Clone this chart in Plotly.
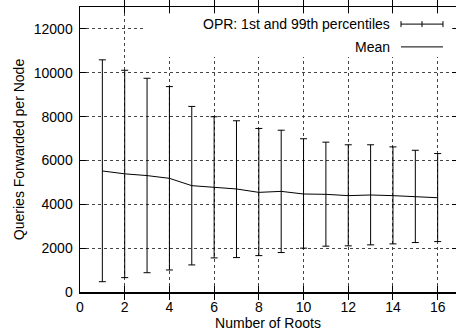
import plotly.graph_objects as go

roots = list(range(1, 17))
mean = [5520, 5390, 5310, 5185, 4850, 4760, 4700, 4545, 4590, 4470, 4455, 4395, 4425, 4395, 4350, 4300]
p1 = [470, 655, 880, 1005, 1235, 1555, 1570, 1660, 1800, 2000, 2090, 2105, 2150, 2195, 2255, 2300]
p99 = [10590, 10115, 9750, 9370, 8465, 7995, 7810, 7460, 7380, 6990, 6835, 6715, 6715, 6620, 6465, 6315]
x_ticks = list(range(0, 17, 2))
y_ticks = list(range(0, 12001, 2000))

FONT = "Liberation Sans, Arial, Helvetica, sans-serif"
X_MAX, Y_MAX = 16.82, 13000

err_plus = [h - m for h, m in zip(p99, mean)]
err_minus = [m - l for m, l in zip(mean, p1)]

fig = go.Figure()
fig.add_trace(go.Scatter(
    x=roots, y=mean, mode="markers",
    marker=dict(size=0.1, color="black"),
    error_y=dict(type="data", symmetric=False, array=err_plus, arrayminus=err_minus,
                 color="black", thickness=1, width=3.5),
    showlegend=False, hoverinfo="skip"))
fig.add_trace(go.Scatter(
    x=roots, y=mean, mode="lines", line=dict(color="black", width=1),
    showlegend=False, hoverinfo="skip"))

# invisible trace to drive the right-side tick axis
fig.add_trace(go.Scatter(x=[None], y=[None], yaxis="y2", showlegend=False))

# gnuplot-style key (text right-aligned, sample to the right) on an opaque box
fig.add_shape(type="rect", xref="x domain", yref="y domain", x0=0.1676, x1=0.99, y0=0.8246, y1=0.977,
              fillcolor="white", line=dict(width=0), layer="above")
ky1, ky2 = 0.940, 0.860
sx0, sx1, sxm, th = 0.8537, 0.9654, 0.9096, 0.0105
fig.add_shape(type="line", xref="paper", yref="paper", x0=sx0, x1=sx1, y0=ky1, y1=ky1,
              line=dict(color="black", width=1))
for sx in (sx0, sxm, sx1):
    fig.add_shape(type="line", xref="paper", yref="paper", x0=sx, x1=sx, y0=ky1 - th, y1=ky1 + th,
                  line=dict(color="black", width=1))
fig.add_shape(type="line", xref="paper", yref="paper", x0=sx0, x1=sx1, y0=ky2, y1=ky2,
              line=dict(color="black", width=1))
fig.add_annotation(xref="paper", yref="paper", x=0.830, y=ky1, xanchor="right", yanchor="middle",
                   text="OPR: 1st and 99th percentiles", showarrow=False,
                   font=dict(family=FONT, size=14, color="black"))
fig.add_annotation(xref="paper", yref="paper", x=0.830, y=ky2, xanchor="right", yanchor="middle",
                   text="Mean", showarrow=False,
                   font=dict(family=FONT, size=14, color="black"))

fig.update_layout(
    width=456, height=336,
    margin=dict(l=80, r=0, t=7, b=44, autoexpand=False),
    paper_bgcolor="white", plot_bgcolor="white",
    font=dict(family=FONT, size=14, color="black"),
    showlegend=False,
    xaxis=dict(range=[0, X_MAX], tickvals=x_ticks, ticktext=[str(v) for v in x_ticks],
               ticks="inside", ticklen=6, tickcolor="black", tickwidth=1,
               showline=True, linecolor="black", linewidth=1.5, mirror="allticks",
               showgrid=True, gridcolor="#444", griddash="dot", gridwidth=1,
               zeroline=False, ticklabelstandoff=2, automargin=False,
               title=dict(text="Number of Roots", standoff=3, font=dict(size=14))),
    yaxis=dict(range=[0, Y_MAX], tickvals=y_ticks, ticktext=[str(v) for v in y_ticks],
               ticks="inside", ticklen=6, tickcolor="black", tickwidth=1,
               showline=True, linecolor="black", linewidth=1.5, mirror=False,
               showgrid=True, gridcolor="#444", griddash="dot", gridwidth=1,
               zeroline=False, ticklabelstandoff=3, automargin=False,
               title=dict(text="Queries Forwarded per Node", standoff=6, font=dict(size=14))),
    yaxis2=dict(range=[0, Y_MAX], tickvals=y_ticks, overlaying="y", side="right",
                ticks="inside", ticklen=4, tickcolor="black", showticklabels=False,
                showline=False, showgrid=False, zeroline=False, automargin=False),
)

fig.write_html("out.html", config={"displayModeBar": False, "staticPlot": True},
               post_script="document.body.style.margin='0';")
